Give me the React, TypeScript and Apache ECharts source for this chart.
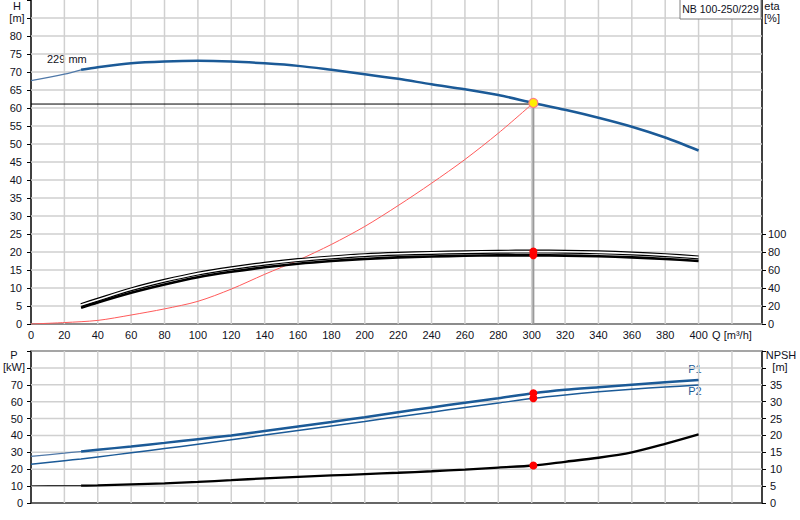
import React, { useEffect, useRef } from "react";
import * as echarts from "echarts";

// Flow values (m³/h)
const Q_MAIN = [0, 20, 30, 40, 60, 80, 100, 120, 140, 160, 180, 200, 220, 240, 260, 280, 301, 320, 340, 360, 380, 400];
// Head curve 229 mm (m)
const HEAD = [67.6, 69.4, 70.6, 71.3, 72.4, 72.9, 73.1, 72.9, 72.4, 71.7, 70.6, 69.4, 68.1, 66.6, 65.2, 63.6, 61.4, 59.5, 57.3, 54.8, 51.8, 48.2];
// Power P1 / P2 (kW)
const P1 = [27.6, 29.5, 30.5, 31.5, 33.5, 35.6, 37.8, 40.0, 42.6, 45.3, 48.0, 50.8, 53.7, 56.6, 59.3, 62.0, 65.0, 67.0, 68.5, 70.0, 71.5, 72.9];
const P2 = [22.9, 25.0, 26.1, 27.3, 29.7, 32.2, 34.8, 37.5, 40.2, 42.9, 45.6, 48.3, 51.1, 53.8, 56.5, 59.2, 62.0, 64.0, 65.8, 67.3, 68.7, 69.8];
// NPSH (m)
const NPSH = [5.1, 5.15, 5.15, 5.2, 5.5, 5.8, 6.25, 6.75, 7.3, 7.75, 8.15, 8.55, 8.95, 9.4, 9.9, 10.5, 11.1, 12.2, 13.4, 15.0, 17.5, 20.3];

// Efficiency curves (%)
const Q_ETA = [30, 40, 60, 80, 100, 120, 140, 160, 180, 200, 220, 240, 260, 280, 301, 320, 340, 360, 380, 400];
const ETA_1 = [21, 27, 38.5, 48, 56, 62, 67, 71, 74, 76.5, 78, 79, 79.8, 80.3, 80.5, 80.3, 79.6, 78.4, 76.5, 74];
const ETA_2 = [18, 24, 34.8, 44, 52, 58, 63, 67, 70, 72.3, 74, 75, 75.8, 76.2, 76.3, 76, 75.3, 74, 72.3, 70];

// System curve (m)
const Q_SYS = [0, 20, 40, 60, 80, 100, 120, 140, 160, 180, 200, 220, 240, 260, 280, 301];
const SYS_H = [0, 0.4, 1.0, 2.5, 4.2, 6.3, 9.7, 13.8, 17.7, 22.1, 27.1, 32.9, 39.1, 45.7, 53.0, 61.4];

// Duty point
const DUTY_Q = 301;
const DUTY_H = 61.4;
const DUTY_ETA = [80.5, 76.3];
const DUTY_P = [65.0, 62.0];
const DUTY_NPSH = 11.1;

// Axis ticks
const Q_MAX = 438;
const H_MAX = 90;
const P_MAX = 90;
const Q_TICKS = [20, 40, 60, 80, 100, 120, 140, 160, 180, 200, 220, 240, 260, 280, 300, 320, 340, 360, 380, 400, 420];
const H_TICKS = [5, 10, 15, 20, 25, 30, 35, 40, 45, 50, 55, 60, 65, 70, 75, 80, 85];
const P_TICKS = [10, 20, 30, 40, 50, 60, 70, 80];
const ETA_TICKS = [0, 20, 40, 60, 80, 100];
const H_TICK_LABEL_MAX = 80;
const P_TICK_LABEL_MAX = 70;
const NPSH_TICK_LABEL_MAX = 35;

const zip = (xs: number[], ys: number[]) => xs.map((x, i) => [x, ys[i]]);

const BLUE = "#1b5a97";
const BLUE_THIN = "#4f78a8";
const GRID_COLOR = "#d0d0d0";
const TXT = "#111122";
const FONT = "Liberation Sans, Arial, sans-serif";

// grid line segments along the axis ticks, separated by empty points
const gridSegments = (xs: number[], ys: number[], xMax: number, yMax: number) => [
  ...xs.flatMap((v) => [[v, 0], [v, yMax], [v, "-"]]),
  ...ys.flatMap((v) => [[0, v], [xMax, v], ["-", v]]),
];

export default function App() {
  const ref = useRef<HTMLDivElement>(null);

  useEffect(() => {
    document.body.style.margin = "0";
    const chart = echarts.init(ref.current!, undefined, { renderer: "svg" });

    const headAll = zip(Q_MAIN, HEAD);
    const p1All = zip(Q_MAIN, P1);
    const npshAll = zip(Q_MAIN, NPSH);

    const labelBase = () => ({ fontSize: 11, color: TXT, fontFamily: FONT });

    const line = (extra: any) => ({
      type: "line",
      symbol: "none",
      smooth: 0.3,
      silent: true,
      z: 10,
      ...extra,
    });

    const dot = (xi: number, yi: number, data: number[][]) => ({
      type: "scatter",
      xAxisIndex: xi,
      yAxisIndex: yi,
      silent: true,
      z: 12,
      symbolSize: 8,
      itemStyle: { color: "#ff0000", opacity: 1 },
      data,
    });

    const txt = (x: number, y: number, text: string, fill = TXT, align = "center") => ({
      type: "text",
      x,
      y,
      style: { text, align, verticalAlign: "middle", fontSize: 11, fontFamily: FONT, fill },
    });

    const option: any = {
      animation: false,
      grid: [
        { left: 31, right: 38, top: 0, bottom: 196 },
        { left: 31, right: 38, top: 351, bottom: 17 },
      ],
      xAxis: [
        {
          type: "value",
          gridIndex: 0,
          min: 0,
          max: Q_MAX,
          interval: 20,
          axisLine: { show: true, onZero: false, lineStyle: { color: "#8c8c8c", width: 2 } },
          axisTick: { show: false },
          axisLabel: {
            ...labelBase(),
            margin: 5,
            formatter: (v: number) => (v % 20 !== 0 ? "" : v === 420 ? "Q [m³/h]" : String(v)),
          },
          splitLine: { show: false },
        },
        {
          type: "value",
          gridIndex: 1,
          min: 0,
          max: Q_MAX,
          interval: 20,
          axisLine: { show: true, onZero: false, lineStyle: { color: "#333", width: 1.5 } },
          axisTick: { show: false },
          axisLabel: { show: false },
          splitLine: { show: false },
        },
        {
          type: "value",
          gridIndex: 1,
          position: "top",
          min: 0,
          max: Q_MAX,
          interval: 20,
          axisLine: { show: true, onZero: false, lineStyle: { color: "#888", width: 1.5 } },
          axisTick: { show: false },
          axisLabel: { show: false },
          splitLine: { show: false },
        },
      ],
      yAxis: [
        {
          type: "value",
          gridIndex: 0,
          position: "left",
          min: 0,
          max: H_MAX,
          interval: 5,
          axisLine: { show: true, onZero: false, lineStyle: { color: "#000", width: 1.5 } },
          axisTick: { show: true, length: 4, lineStyle: { color: "#000" } },
          axisLabel: {
            ...labelBase(),
            margin: 9,
            formatter: (v: number) => (v <= H_TICK_LABEL_MAX ? String(v) : ""),
          },
          splitLine: { show: false },
        },
        {
          type: "value",
          gridIndex: 0,
          position: "right",
          min: 0,
          max: 360,
          interval: 20,
          axisLine: { show: true, onZero: false, lineStyle: { color: "#000", width: 1.5 } },
          axisTick: { show: true, length: 4, lineStyle: { color: "#000" }, customValues: ETA_TICKS },
          axisLabel: { ...labelBase(), margin: 6, customValues: ETA_TICKS },
          splitLine: { show: false },
        },
        {
          type: "value",
          gridIndex: 1,
          position: "left",
          min: 0,
          max: P_MAX,
          interval: 10,
          axisLine: { show: true, onZero: false, lineStyle: { color: "#000", width: 1.5 } },
          axisTick: { show: true, length: 4, lineStyle: { color: "#000" } },
          axisLabel: {
            ...labelBase(),
            margin: 8,
            formatter: (v: number) => (v <= P_TICK_LABEL_MAX ? String(v) : ""),
          },
          splitLine: { show: false },
        },
        {
          type: "value",
          gridIndex: 1,
          position: "right",
          min: 0,
          max: 45,
          interval: 5,
          axisLine: { show: true, onZero: false, lineStyle: { color: "#000", width: 1.5 } },
          axisTick: { show: true, length: 4, lineStyle: { color: "#000" } },
          axisLabel: {
            ...labelBase(),
            margin: 8,
            formatter: (v: number) => (v <= NPSH_TICK_LABEL_MAX ? String(v) : ""),
          },
          splitLine: { show: false },
        },
      ],
      series: [
        // grid lines (top panel)
        {
          type: "line",
          xAxisIndex: 0,
          yAxisIndex: 0,
          silent: true,
          z: 1,
          symbol: "none",
          connectNulls: false,
          data: gridSegments(Q_TICKS, H_TICKS, Q_MAX, H_MAX),
          lineStyle: { color: GRID_COLOR, width: 1.5 },
        },
        // grid lines (bottom panel)
        {
          type: "line",
          xAxisIndex: 1,
          yAxisIndex: 2,
          silent: true,
          z: 1,
          symbol: "none",
          connectNulls: false,
          data: gridSegments(Q_TICKS, P_TICKS, Q_MAX, P_MAX),
          lineStyle: { color: GRID_COLOR, width: 1.5 },
        },
        line({
          xAxisIndex: 0,
          yAxisIndex: 0,
          smooth: false,
          z: 5,
          data: [[DUTY_Q, 0], [DUTY_Q, DUTY_H]],
          lineStyle: { color: "#9a9a9a", width: 2 },
        }),
        line({
          xAxisIndex: 0,
          yAxisIndex: 0,
          smooth: false,
          data: [[0, DUTY_H - 0.3], [DUTY_Q, DUTY_H - 0.3]],
          lineStyle: { color: "#000", width: 1 },
        }),
        line({
          xAxisIndex: 0,
          yAxisIndex: 0,
          data: zip(Q_SYS, SYS_H),
          lineStyle: { color: "#ff5a5a", width: 1 },
        }),
        line({
          xAxisIndex: 0,
          yAxisIndex: 0,
          data: headAll.slice(0, 3),
          lineStyle: { color: BLUE_THIN, width: 1.2 },
        }),
        line({
          xAxisIndex: 0,
          yAxisIndex: 0,
          data: headAll.slice(2),
          lineStyle: { color: BLUE, width: 2.5 },
        }),
        line({
          xAxisIndex: 0,
          yAxisIndex: 1,
          data: zip(Q_ETA, ETA_1),
          lineStyle: { color: "#000", width: 4 },
        }),
        line({
          xAxisIndex: 0,
          yAxisIndex: 1,
          data: zip(Q_ETA, ETA_1),
          lineStyle: { color: "#fff", width: 1.6 },
        }),
        line({
          xAxisIndex: 0,
          yAxisIndex: 1,
          data: zip(Q_ETA, ETA_2),
          lineStyle: { color: "#000", width: 2.6 },
        }),
        dot(0, 1, DUTY_ETA.map((e) => [DUTY_Q, e])),
        {
          type: "scatter",
          xAxisIndex: 0,
          yAxisIndex: 0,
          silent: true,
          z: 12,
          symbolSize: 9,
          itemStyle: { color: "#ffee00", borderColor: "#ff8080", borderWidth: 1.2, opacity: 1 },
          data: [[DUTY_Q, DUTY_H]],
        },
        line({
          xAxisIndex: 1,
          yAxisIndex: 2,
          data: p1All.slice(0, 3),
          lineStyle: { color: BLUE_THIN, width: 1.2 },
        }),
        line({
          xAxisIndex: 1,
          yAxisIndex: 2,
          data: p1All.slice(2),
          lineStyle: { color: BLUE, width: 2.5 },
        }),
        line({
          xAxisIndex: 1,
          yAxisIndex: 2,
          data: zip(Q_MAIN, P2),
          lineStyle: { color: BLUE, width: 1.5 },
        }),
        line({
          xAxisIndex: 1,
          yAxisIndex: 3,
          data: npshAll.slice(0, 3),
          lineStyle: { color: "#333", width: 1.2 },
        }),
        line({
          xAxisIndex: 1,
          yAxisIndex: 3,
          data: npshAll.slice(2),
          lineStyle: { color: "#000", width: 2.3 },
        }),
        dot(1, 2, DUTY_P.map((p) => [DUTY_Q, p])),
        dot(1, 3, [[DUTY_Q, DUTY_NPSH]]),
      ],
      graphic: [
        txt(17, 6, "H"),
        txt(17, 18, "[m]"),
        txt(772, 6, "eta"),
        txt(772, 18, "[%]"),
        txt(14, 355, "P"),
        txt(14, 367, "[kW]"),
        txt(781, 355, "NPSH"),
        txt(780, 367, "[m]"),
        txt(47, 59, "229 mm", TXT, "left"),
        txt(695, 369, "P1", BLUE),
        txt(695, 391, "P2", BLUE),
        {
          type: "rect",
          shape: { x: 680, y: -1, width: 81, height: 20 },
          style: { fill: "#fff", stroke: "#808080", lineWidth: 1 },
          z: 100,
        },
        {
          type: "text",
          x: 720.5,
          y: 9,
          z: 101,
          style: { text: "NB 100-250/229", align: "center", verticalAlign: "middle", fontSize: 10.5, fontFamily: FONT, fill: TXT },
        },
      ],
    };

    chart.setOption(option);
    return () => chart.dispose();
  }, []);

  return <div ref={ref} style={{ position: "absolute", left: 0, top: 0, width: 800, height: 520 }} />;
}
